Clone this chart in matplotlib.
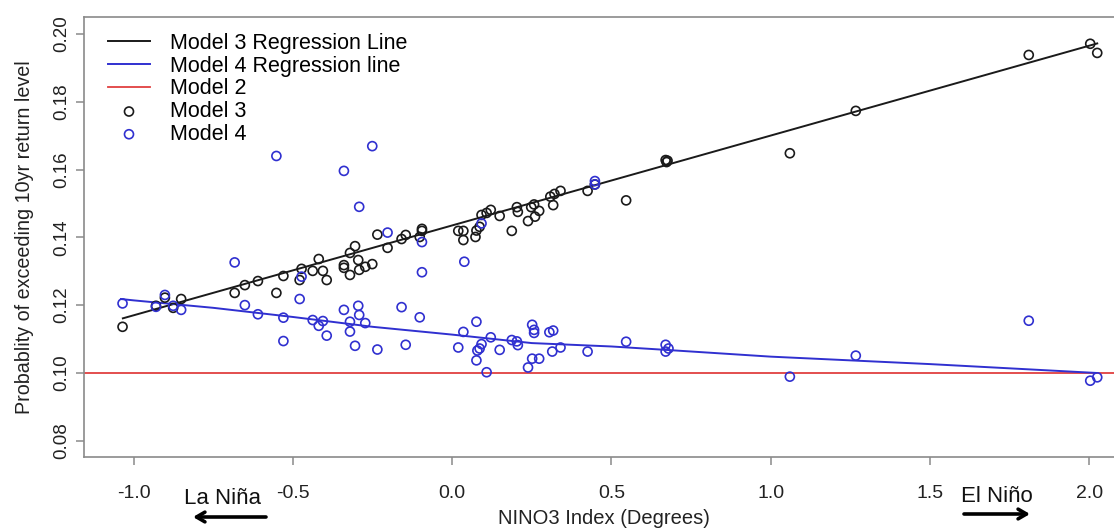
import matplotlib
matplotlib.use('Agg')
import matplotlib.pyplot as plt
import numpy as np

# Model 3 points (NINO3 index, probability)
m3_x = [-1.035, -0.930, -0.902, -0.876, -0.851, -0.683, -0.651, -0.610, -0.552, -0.530,
        -0.479, -0.473, -0.438, -0.419, -0.406, -0.394, -0.340, -0.340, -0.321, -0.321,
        -0.305, -0.295, -0.292, -0.273, -0.251, -0.235, -0.203, -0.159, -0.146, -0.102,
        -0.095, -0.095, 0.019, 0.035, 0.035, 0.073, 0.076, 0.086, 0.092, 0.108,
        0.121, 0.149, 0.187, 0.203, 0.206, 0.238, 0.248, 0.257, 0.260, 0.273,
        0.308, 0.321, 0.317, 0.340, 0.425, 0.448, 0.546, 0.670, 0.673, 0.676,
        1.060, 1.267, 1.810, 2.003, 2.025]
m3_y = [0.1136, 0.1198, 0.1222, 0.1192, 0.1218, 0.1236, 0.1259, 0.1271, 0.1236, 0.1286,
        0.1274, 0.1307, 0.1301, 0.1336, 0.1301, 0.1274, 0.1318, 0.1310, 0.1289, 0.1354,
        0.1374, 0.1333, 0.1304, 0.1313, 0.1321, 0.1408, 0.1369, 0.1395, 0.1407, 0.1401,
        0.1425, 0.1419, 0.1419, 0.1419, 0.1392, 0.1401, 0.1420, 0.1431, 0.1466, 0.1472,
        0.1481, 0.1463, 0.1419, 0.1489, 0.1475, 0.1448, 0.1489, 0.1497, 0.1461, 0.1478,
        0.1520, 0.1528, 0.1495, 0.1537, 0.1537, 0.1556, 0.1509, 0.1628, 0.1622, 0.1626,
        0.1648, 0.1773, 0.1938, 0.1971, 0.1944]

# Model 4 points
m4_x = [-1.035, -0.930, -0.902, -0.876, -0.851, -0.683, -0.651, -0.610, -0.552, -0.530,
        -0.530, -0.479, -0.473, -0.438, -0.419, -0.406, -0.394, -0.340, -0.340, -0.321,
        -0.321, -0.305, -0.295, -0.292, -0.292, -0.273, -0.251, -0.235, -0.203, -0.159,
        -0.146, -0.102, -0.095, -0.095, 0.019, 0.035, 0.038, 0.076, 0.076, 0.079,
        0.086, 0.092, 0.092, 0.108, 0.121, 0.149, 0.187, 0.203, 0.206, 0.238,
        0.251, 0.257, 0.257, 0.251, 0.273, 0.305, 0.317, 0.314, 0.340, 0.425,
        0.448, 0.448, 0.546, 0.670, 0.670, 0.679, 1.060, 1.267, 1.810, 2.003, 2.025]
m4_y = [0.1205, 0.1195, 0.1230, 0.1198, 0.1186, 0.1326, 0.1200, 0.1173, 0.1640, 0.1163,
        0.1094, 0.1218, 0.1284, 0.1156, 0.1139, 0.1153, 0.1110, 0.1186, 0.1596, 0.1151,
        0.1122, 0.1080, 0.1198, 0.1171, 0.1490, 0.1147, 0.1669, 0.1069, 0.1414, 0.1194,
        0.1083, 0.1164, 0.1386, 0.1297, 0.1075, 0.1121, 0.1328, 0.1151, 0.1037, 0.1066,
        0.1072, 0.1085, 0.1441, 0.1002, 0.1105, 0.1068, 0.1097, 0.1093, 0.1082, 0.1016,
        0.1142, 0.1127, 0.1118, 0.1042, 0.1042, 0.1120, 0.1125, 0.1063, 0.1075, 0.1063,
        0.1566, 0.1556, 0.1092, 0.1083, 0.1063, 0.1072, 0.0989, 0.1051, 0.1154, 0.0977, 0.0987]

# regression line ends (model 3) and smooth curve (model 4)
fit3_x = [-1.034, 2.025]
fit3_y = [0.1161, 0.1972]
fit4_x = [-1.04, -1.0, -0.75, -0.5, -0.25, 0.0, 0.1, 0.25, 0.5, 0.67, 1.0, 1.5, 2.02]
fit4_y = [0.1218, 0.1214, 0.1192, 0.1165, 0.1136, 0.1113, 0.1103, 0.1088, 0.1078,
          0.1068, 0.1048, 0.1026, 0.1000]
model2 = 0.10

xticks = [-1.0, -0.5, 0.0, 0.5, 1.0, 1.5, 2.0]
yticks = [0.08, 0.10, 0.12, 0.14, 0.16, 0.18, 0.20]

black = '#1a1a1a'
blue = '#3030d0'
red = '#e04040'
grey = '#8a8a8a'
plt.rcParams['font.family'] = ['Liberation Sans', 'DejaVu Sans']

fig = plt.figure(figsize=(11.14, 5.31), dpi=100)
ax = fig.add_axes([0.0754, 0.1394, 0.935, 0.8286])

ax.axhline(model2, color=red, lw=1.3, label='Model 2')
ax.plot(fit3_x, fit3_y, color=black, lw=1.4, label='Model 3 Regression Line')
ax.plot(fit4_x, fit4_y, color=blue, lw=1.4, label='Model 4 Regression line')
ax.scatter(m3_x, m3_y, s=42, facecolors='none', edgecolors=black, linewidths=1.2,
           label='Model 3', zorder=3)
ax.scatter(m4_x, m4_y, s=42, facecolors='none', edgecolors=blue, linewidths=1.2,
           label='Model 4', zorder=3)

ax.set_xlim(-1.156, 2.114)
ax.set_ylim(0.0752, 0.205)

for s in ax.spines.values():
    s.set_color(grey)
    s.set_linewidth(1.2)

ax.set_xticks(xticks)
ax.set_xticklabels(['%.1f' % t for t in xticks], fontsize=14)
ax.set_yticks(yticks)
ax.set_yticklabels(['%.2f' % t for t in yticks], fontsize=13.5, rotation=90, va='center')
ax.tick_params(axis='both', color=grey, length=6, width=1.1, labelcolor='#222222')
ax.tick_params(axis='x', pad=14)
ax.tick_params(axis='y', pad=4)

ax.set_ylabel('Probablity of exceeding 10yr return level', fontsize=14.2,
              color='#222222', labelpad=14)

fig.text(604 / 1114, 1 - 519 / 531, 'NINO3 Index (Degrees)', fontsize=14.5,
         ha='center', va='center', color='#222222')
fig.text(222 / 1114, 1 - 499 / 531, 'La Niña', fontsize=16,
         ha='center', va='center', color='#111111')
fig.text(997 / 1114, 1 - 497 / 531, 'El Niño', fontsize=16,
         ha='center', va='center', color='#111111')
arr = dict(arrowstyle='->,head_length=0.6,head_width=0.35', lw=2.6, color='black',
           shrinkA=0, shrinkB=0)
ax.annotate('', xy=(193, 531 - 517), xytext=(266, 531 - 517),
            xycoords='figure pixels', textcoords='figure pixels', arrowprops=arr,
            annotation_clip=False)
ax.annotate('', xy=(1030, 531 - 514), xytext=(964, 531 - 514),
            xycoords='figure pixels', textcoords='figure pixels', arrowprops=arr,
            annotation_clip=False)

h, l = ax.get_legend_handles_labels()
order = [l.index(n) for n in ['Model 3 Regression Line', 'Model 4 Regression line',
                             'Model 2', 'Model 3', 'Model 4']]
ax.legend([h[i] for i in order], [l[i] for i in order], loc='upper left',
          bbox_to_anchor=(108 / 1114, 1 - 33 / 531), bbox_transform=fig.transFigure,
          frameon=False, fontsize=15.5, handlelength=1.95, handletextpad=0.95,
          labelspacing=0.08, borderpad=0, borderaxespad=0)

fig.savefig('out.png', dpi=100)
